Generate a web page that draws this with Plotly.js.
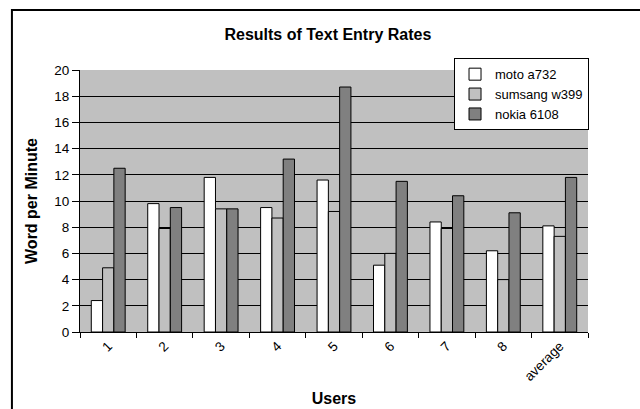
<!DOCTYPE html>
<html>
<head>
<meta charset="utf-8">
<script src="https://cdn.plot.ly/plotly-3.0.1.min.js"></script>
<style>html,body{margin:0;padding:0;background:#fff;}#chart{width:640px;height:409px;}</style>
</head>
<body>
<div id="chart"></div>
<script>
var users = ["1", "2", "3", "4", "5", "6", "7", "8", "average"];
var seriesNames = ["moto a732", "sumsang w399", "nokia 6108"];
var moto = [2.4, 9.8, 11.8, 9.5, 11.6, 5.1, 8.4, 6.2, 8.1];
var samsung = [4.9, 7.9, 9.4, 8.7, 9.2, 6.0, 7.9, 4.0, 7.3];
var nokia = [12.5, 9.5, 9.4, 13.2, 18.7, 11.5, 10.4, 9.1, 11.8];
var yTicks = [0, 2, 4, 6, 8, 10, 12, 14, 16, 18, 20];

var colors = ["#ffffff", "#c0c0c0", "#808080"];
var vals = [moto, samsung, nokia];
var data = vals.map(function (v, i) {
  return {
    type: "bar",
    name: seriesNames[i],
    x: users,
    y: v,
    marker: { color: colors[i], line: { color: "#000000", width: 1 } }
  };
});

var layout = {
  width: 640, height: 409,
  margin: { l: 80, r: 52, t: 70, b: 77 },
  paper_bgcolor: "#ffffff",
  plot_bgcolor: "#c0c0c0",
  font: { family: "Liberation Sans, Arial, sans-serif", color: "#000000", size: 13 },
  title: { text: "<b>Results of Text Entry Rates</b>", font: { size: 16 }, x: 0.488, xref: "paper", xanchor: "center", y: 0.915, yanchor: "middle", yref: "container" },
  barmode: "group",
  bargap: 0.4,
  bargroupgap: 0,
  showlegend: true,
  legend: {
    x: 1.002, y: 1.045, xanchor: "right", yanchor: "top",
    bgcolor: "#ffffff", bordercolor: "#000000", borderwidth: 1,
    font: { size: 13 }, tracegroupgap: 0, itemwidth: 30
  },
  xaxis: {
    type: "category",
    tickson: "boundaries",
    ticks: "outside", ticklen: 5, tickcolor: "#000000",
    showline: true, linecolor: "#000000", linewidth: 1,
    tickangle: -45,
    tickfont: { size: 13.5 },
    showgrid: false,
    automargin: false,
    title: { text: "<b>Users</b>", font: { size: 16 }, standoff: 9 }
  },
  yaxis: {
    range: [0, 20],
    tickvals: yTicks,
    ticks: "outside", ticklen: 7, tickcolor: "#000000",
    showline: true, linecolor: "#000000", linewidth: 1,
    showgrid: true, gridcolor: "#000000", gridwidth: 1,
    zeroline: false,
    tickfont: { size: 13.5 },
    automargin: false,
    title: { text: "<b>Word per Minute</b>", font: { size: 16 }, standoff: 12 }
  },
  shapes: [{
    type: "rect", xref: "paper", yref: "paper",
    x0: -0.134, x1: 1.12, y0: -0.33, y1: 1.229,
    line: { color: "#000000", width: 2 }, fillcolor: "rgba(0,0,0,0)", layer: "below"
  }]
};

Plotly.newPlot("chart", data, layout, { displayModeBar: false, staticPlot: true });
</script>
</body>
</html>
